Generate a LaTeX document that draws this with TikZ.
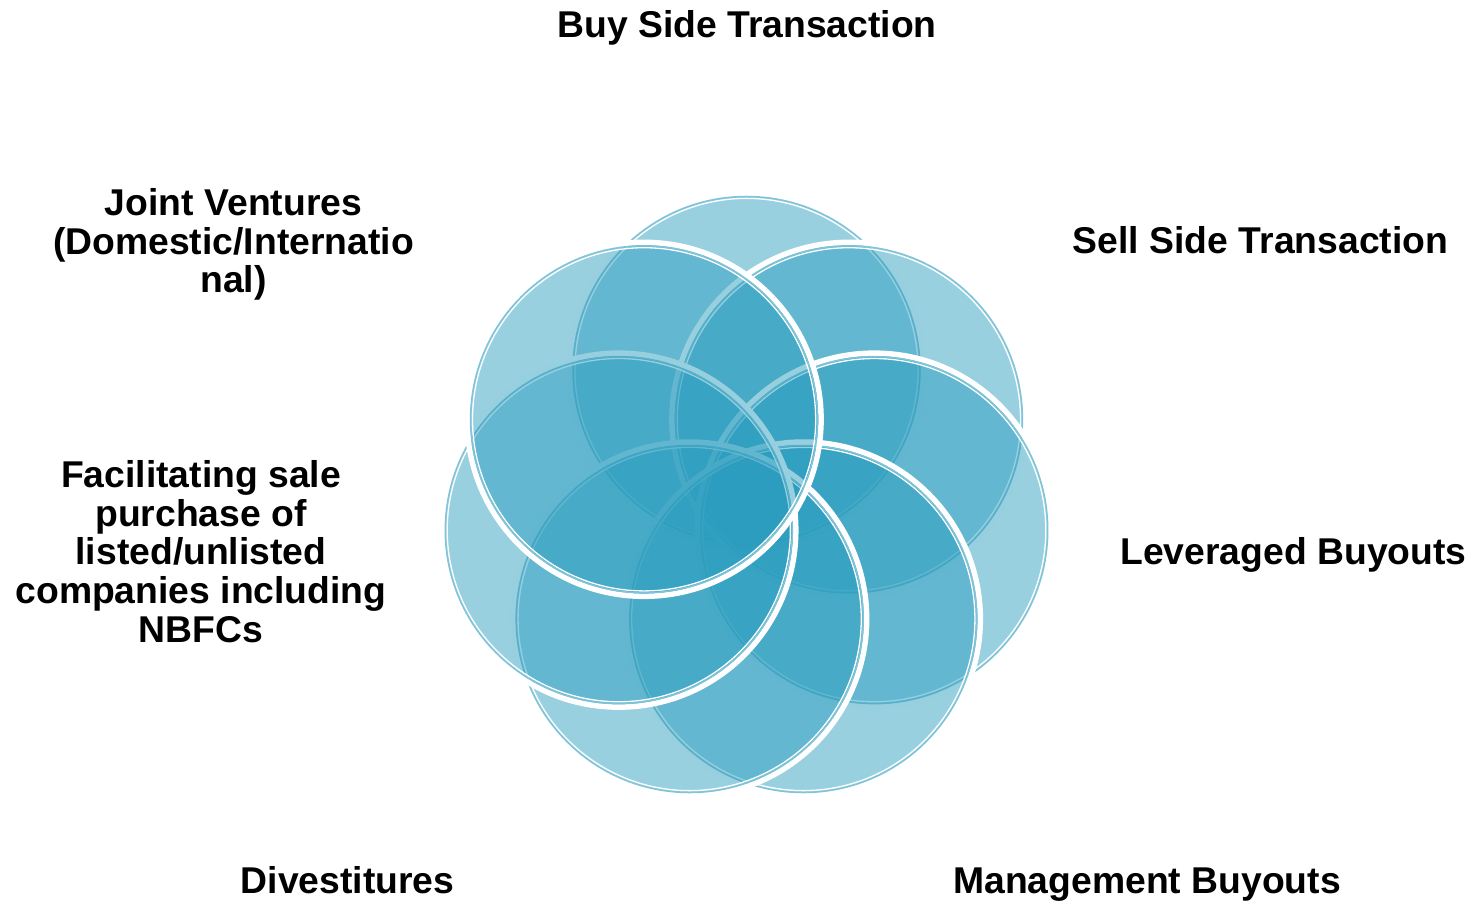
\documentclass[tikz,border=0pt]{standalone}
\usepackage{fontspec}
\setmainfont{Liberation Sans}
\usetikzlibrary{calc}
\definecolor{petalblue}{RGB}{41,156,190}
\tikzset{
  lbl/.style={font=\fontsize{37.3}{38.8}\selectfont\bfseries, inner sep=0pt, align=center},
  petal/.style={fill=petalblue, fill opacity=.48},
  halo/.style={draw=white, line width=5.5pt},
  rim/.style={draw=petalblue!60, line width=1.5pt},
  inrim/.style={draw=white, line width=1.3pt}
}
\begin{document}
\begin{tikzpicture}[x=1pt,y=1pt]
\useasboundingbox (0,0) rectangle (1475,902);
\coordinate (ctr) at (746.5,401);
\foreach \i in {0,...,6} {
  \coordinate (p\i) at ($(ctr)+({90-\i*360/7}:131)$);
  \draw[halo] (p\i) circle [radius=177];
  \fill[petal] (p\i) circle [radius=173.5];
  \draw[rim] (p\i) circle [radius=173.5];
  \draw[inrim] (p\i) circle [radius=171.6];
}
\node [lbl, anchor=base] (buy) at (747,864) {Buy Side Transaction};
\node [lbl, anchor=base] (sell) at (1260.5,648) {Sell Side Transaction};
\node [lbl, anchor=base] (lbo) at (1293.5,337) {Leveraged Buyouts};
\node [lbl, anchor=base] (mbo) at (1147,8) {Management Buyouts};
\node [lbl, anchor=base] (divest) at (347.5,8) {Divestitures};
\node [lbl, anchor=north] (facil) at (201,442) {Facilitating sale\\purchase of\\listed/unlisted\\companies including\\NBFCs};
\node [lbl, anchor=north] (jv) at (233.5,714) {Joint Ventures\\(Domestic/Internatio\\nal)};
\end{tikzpicture}
\end{document}
